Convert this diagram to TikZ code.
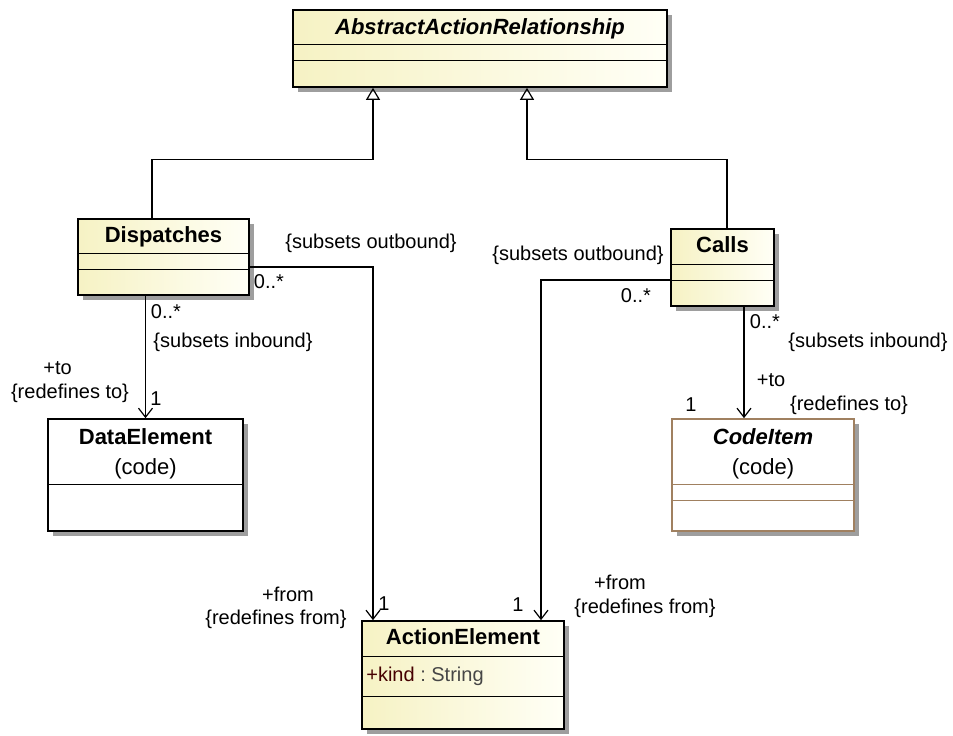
\documentclass[tikz,border=0pt]{standalone}
\usepackage{fontspec}
\setmainfont{Liberation Sans}
\usetikzlibrary{arrows.meta,positioning,shadows}

\definecolor{boxleft}{RGB}{246,242,196}
\definecolor{boxright}{RGB}{255,255,246}
\definecolor{codebrown}{RGB}{160,128,96}
\definecolor{attrname}{RGB}{70,0,0}
\definecolor{attrtype}{RGB}{70,70,70}

\begin{document}
\begin{tikzpicture}[
    x=1pt, y=-1pt, line join=miter,
    every node/.style={font=\fontsize{20}{24}\selectfont, inner sep=0pt},
    classshape/.style={draw, rectangle, line width=1.7pt,
        drop shadow={shadow xshift=5pt, shadow yshift=-5pt, fill=black!38, opacity=1}},
    yellowclass/.style={classshape, left color=boxleft, right color=boxright},
    whiteclass/.style={classshape, fill=white},
    title/.style={font=\fontsize{22}{26}\selectfont\bfseries, text height=16pt, text depth=5pt},
    stereo/.style={font=\fontsize{22}{26}\selectfont, text height=16pt, text depth=5pt},
    divider/.style={line width=1.3pt},
    lbl/.style={text height=15pt, text depth=4pt},
    inherit/.style={line width=1.2pt, -{Triangle[open, width=14pt, length=12pt, line width=1.2pt]}},
    assoc/.style={line width=1.2pt, -{Straight Barb[width=14pt, length=9pt, line width=1.2pt]}}]

    \useasboundingbox (0,0) rectangle (953,736);

    % Define classes
    \node[yellowclass, minimum width=374pt, minimum height=77pt] (aar) at (480,48.5) {};
    \node[title, font=\fontsize{22}{26}\selectfont\bfseries\itshape] (aarT) at ([yshift=-19.5pt]aar.north) {AbstractActionRelationship};
    \draw[divider] ([yshift=-35pt]aar.north west) -- ([yshift=-35pt]aar.north east);
    \draw[divider] ([yshift=-51pt]aar.north west) -- ([yshift=-51pt]aar.north east);

    \node[yellowclass, minimum width=171pt, minimum height=76pt] (disp) at (163.5,257) {};
    \node[title] (dispT) at ([yshift=-18.5pt]disp.north) {Dispatches};
    \draw[divider] ([yshift=-35pt]disp.north west) -- ([yshift=-35pt]disp.north east);
    \draw[divider] ([yshift=-51pt]disp.north west) -- ([yshift=-51pt]disp.north east);

    \node[yellowclass, minimum width=103pt, minimum height=77pt] (calls) at (722.5,267.5) {};
    \node[title] (callsT) at ([yshift=-18.5pt]calls.north) {Calls};
    \draw[divider] ([yshift=-36pt]calls.north west) -- ([yshift=-36pt]calls.north east);
    \draw[divider] ([yshift=-52pt]calls.north west) -- ([yshift=-52pt]calls.north east);

    \node[whiteclass, minimum width=195pt, minimum height=112pt] (data) at (145.5,475) {};
    \node[title] (dataT) at ([yshift=-20.5pt]data.north) {DataElement};
    \node[stereo] (dataS) at ([yshift=-50.5pt]data.north) {(code)};
    \draw[divider] ([yshift=-66pt]data.north west) -- ([yshift=-66pt]data.north east);

    \node[whiteclass, draw=codebrown, minimum width=182pt, minimum height=112pt] (code) at (763,475) {};
    \node[title, font=\fontsize{22}{26}\selectfont\bfseries\itshape] (codeT) at ([yshift=-20.5pt]code.north) {CodeItem};
    \node[stereo] (codeS) at ([yshift=-50.5pt]code.north) {(code)};
    \draw[divider, codebrown] ([yshift=-66pt]code.north west) -- ([yshift=-66pt]code.north east);
    \draw[divider, codebrown] ([yshift=-82pt]code.north west) -- ([yshift=-82pt]code.north east);

    \node[yellowclass, minimum width=202pt, minimum height=108pt] (action) at (463,675) {};
    \node[title] (actionT) at ([yshift=-18.5pt]action.north) {ActionElement};
    \draw[divider] ([yshift=-36pt]action.north west) -- ([yshift=-36pt]action.north east);
    \node[anchor=base west] (actionA) at ([xshift=5pt,yshift=-61pt]action.north west)
        {\textcolor{attrname}{+kind}\textcolor{attrtype}{\ :\ String}};
    \draw[divider] ([yshift=-76pt]action.north west) -- ([yshift=-76pt]action.north east);

    % Draw generalizations
    \draw[inherit] ([xshift=-11.5pt]disp.north) -- ++(0,-59) -| ([xshift=-107pt]aar.south);
    \draw[inherit] ([xshift=4.5pt]calls.north) -- ++(0,-69) -| ([xshift=47pt]aar.south);

    % Draw associations
    \draw[assoc] ([yshift=-10pt]disp.east) -| ([xshift=-90pt]action.north);
    \draw[assoc] ([yshift=-12.5pt]calls.west) -| ([xshift=78pt]action.north);
    \draw[assoc] (data.north |- disp.south) -- (data.north);
    \draw[assoc] ([xshift=-19pt]code.north |- calls.south) -- ([xshift=-19pt]code.north);

    % Association end labels
    \node[lbl] (dispOut) at (371,243) {\{subsets outbound\}};
    \node[lbl] (dispOutM) at (269,283) {0..*};
    \node[lbl] (dispFromM) at (384,605) {1};
    \node[lbl] (dispFrom) at (288,596) {+from};
    \node[lbl] (dispFromR) at (276,619) {\{redefines from\}};

    \node[lbl] (callsOut) at (578,255) {\{subsets outbound\}};
    \node[lbl] (callsOutM) at (636,297) {0..*};
    \node[lbl] (callsFromM) at (518,606) {1};
    \node[lbl] (callsFrom) at (620,584) {+from};
    \node[lbl] (callsFromR) at (645,608) {\{redefines from\}};

    \node[lbl] (dispInM) at (166,313) {0..*};
    \node[lbl] (dispIn) at (233,342) {\{subsets inbound\}};
    \node[lbl] (dispTo) at (57.5,369) {+to};
    \node[lbl] (dispToR) at (70,393) {\{redefines to\}};
    \node[lbl] (dispToM) at (156,400) {1};

    \node[lbl] (callsInM) at (765,323) {0..*};
    \node[lbl] (callsIn) at (868,342) {\{subsets inbound\}};
    \node[lbl] (callsTo) at (771,381) {+to};
    \node[lbl] (callsToM) at (691,406) {1};
    \node[lbl] (callsToR) at (849,405) {\{redefines to\}};
\end{tikzpicture}
\end{document}
